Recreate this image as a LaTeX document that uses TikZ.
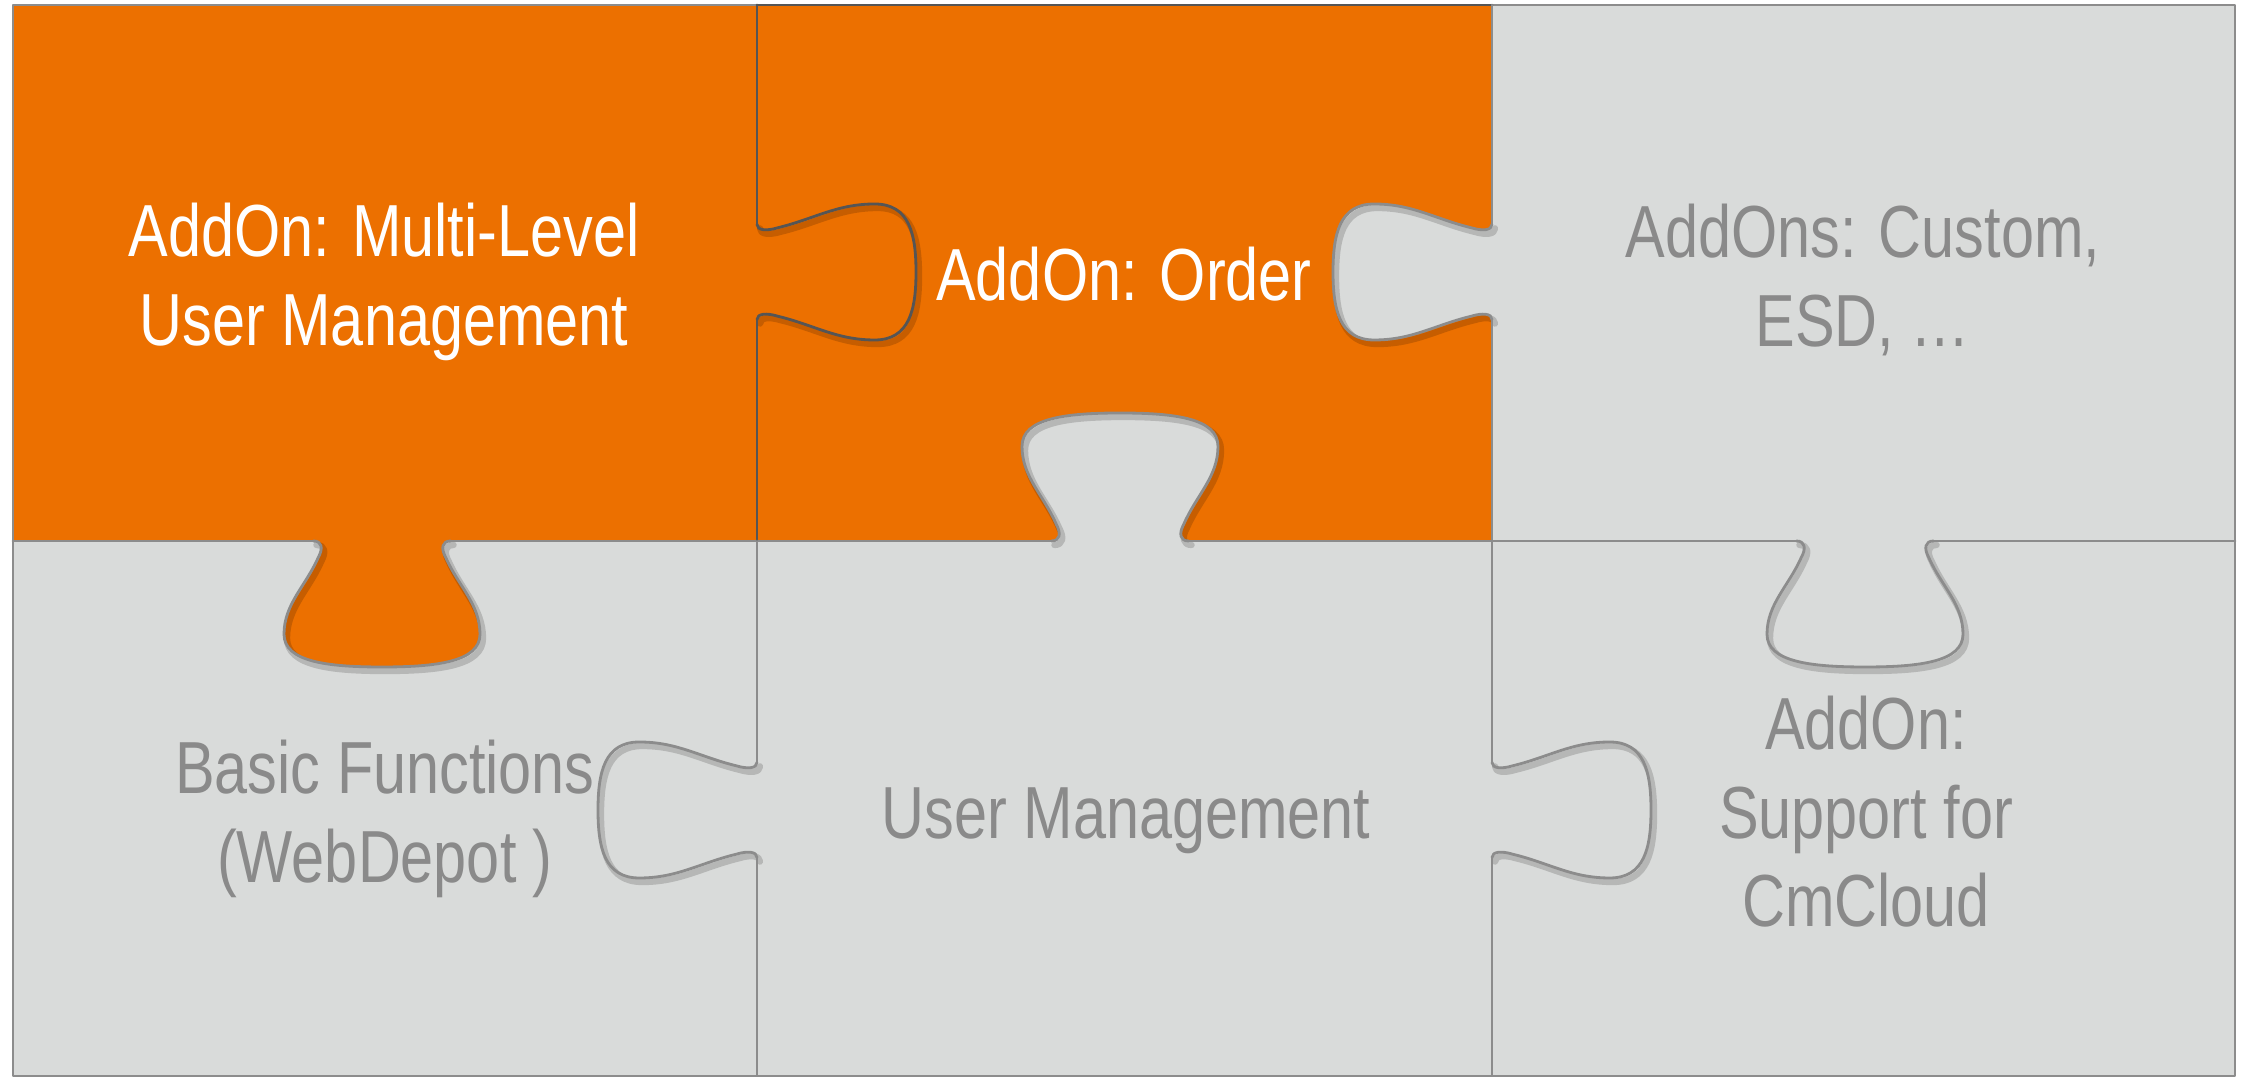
\documentclass[tikz,border=0pt]{standalone}
\usepackage{fontspec}
\setmainfont{Liberation Sans}[FakeStretch=0.805]
\definecolor{addon}{HTML}{EC7000}
\definecolor{piece}{HTML}{D9DBDA}
\definecolor{edgegray}{HTML}{8C8C8C}
\definecolor{edgedark}{HTML}{555555}
\definecolor{textgray}{HTML}{8A8A8A}

\begin{document}
\begin{tikzpicture}[x=0.1mm, y=-0.1mm, line cap=round, line join=round, font=\fontsize{21}{25.2}\selectfont]
	\tikzset{
		cut/.style={draw=edgegray, line width=0.8pt},
		cutdark/.style={draw=edgedark, line width=0.8pt},
		shade/.style={draw=black, opacity=0.16, line width=1.8pt},
		piecetext/.style={align=center, inner sep=0pt, text=textgray},
		knobdown/.style={xscale=98, yscale=126},
		knobup/.style={xscale=98, yscale=-128},
		knobright/.style={rotate=90, xscale=68, yscale=159},
		knobleft/.style={rotate=-90, xscale=68, yscale=159},
		pics/knob/.style={code={
			\path[pic actions] (-0.7,0) .. controls (-0.61,0) and (-0.6,0.06) .. (-0.65,0.13)
				.. controls (-0.78,0.36) and (-1,0.5) .. (-1,0.74)
				.. controls (-1,0.96) and (-0.55,1) .. (0,1)
				.. controls (0.55,1) and (1,0.96) .. (1,0.74)
				.. controls (1,0.5) and (0.78,0.36) .. (0.65,0.13)
				.. controls (0.6,0.06) and (0.61,0) .. (0.7,0);
		}}
	}
	\useasboundingbox (0,0) rectangle (2249,1077);
	\fill[piece] (13,5) rectangle (2235,1076);
	\fill[addon] (13,5) rectangle (1492,541);
	\pic[fill=addon, knobdown] at (382,541) {knob};
	\pic[fill=piece, knobup] at (1120,541) {knob};
	\pic[fill=piece, knobleft] at (1492,272) {knob};
	% shadows
	\pic[shade, knobdown] at (385,545) {knob};
	\pic[shade, knobup] at (1123,545) {knob};
	\pic[shade, knobdown] at (1868,545) {knob};
	\pic[shade, knobright] at (760,276) {knob};
	\pic[shade, knobleft] at (1495,276) {knob};
	\pic[shade, knobleft] at (760,814) {knob};
	\pic[shade, knobright] at (1495,814) {knob};
	% cut lines
	\draw[cut] (13,5) rectangle (2235,1076);
	\draw[cutdark] (757,5) -- (1492,5);
	\draw[cut] (13,541) -- (313,541) (451,541) -- (1051,541) (1189,541) -- (1796,541) (1934,541) -- (2235,541);
	\draw[cutdark] (757,5) -- (757,224) (757,320) -- (757,541);
	\draw[cut] (757,541) -- (757,762) (757,858) -- (757,1076);
	\draw[cut] (1492,5) -- (1492,224) (1492,320) -- (1492,762) (1492,858) -- (1492,1076);
	\pic[cut, knobdown] at (382,541) {knob};
	\pic[cut, knobup] at (1120,541) {knob};
	\pic[cut, knobdown] at (1865,541) {knob};
	\pic[cutdark, knobright] at (757,272) {knob};
	\pic[cut, knobleft] at (1492,272) {knob};
	\pic[cut, knobleft] at (757,810) {knob};
	\pic[cut, knobright] at (1492,810) {knob};
	% texts
	\node[piecetext, text=white] (multilevel) at (384,282) {AddOn: Multi-Level\\User Management};
	\node[piecetext, text=white] (order) at (1124,274) {AddOn: Order};
	\node[piecetext] (custom) at (1863,280) {AddOns: Custom,\\ESD, …};
	\node[piecetext] (basic) at (385,819) {Basic Functions\\(WebDepot )};
	\node[piecetext] (usermgmt) at (1126,821) {User Management};
	\node[piecetext] (cmcloud) at (1866,812) {AddOn:\\Support for\\CmCloud};
\end{tikzpicture}
\end{document}
